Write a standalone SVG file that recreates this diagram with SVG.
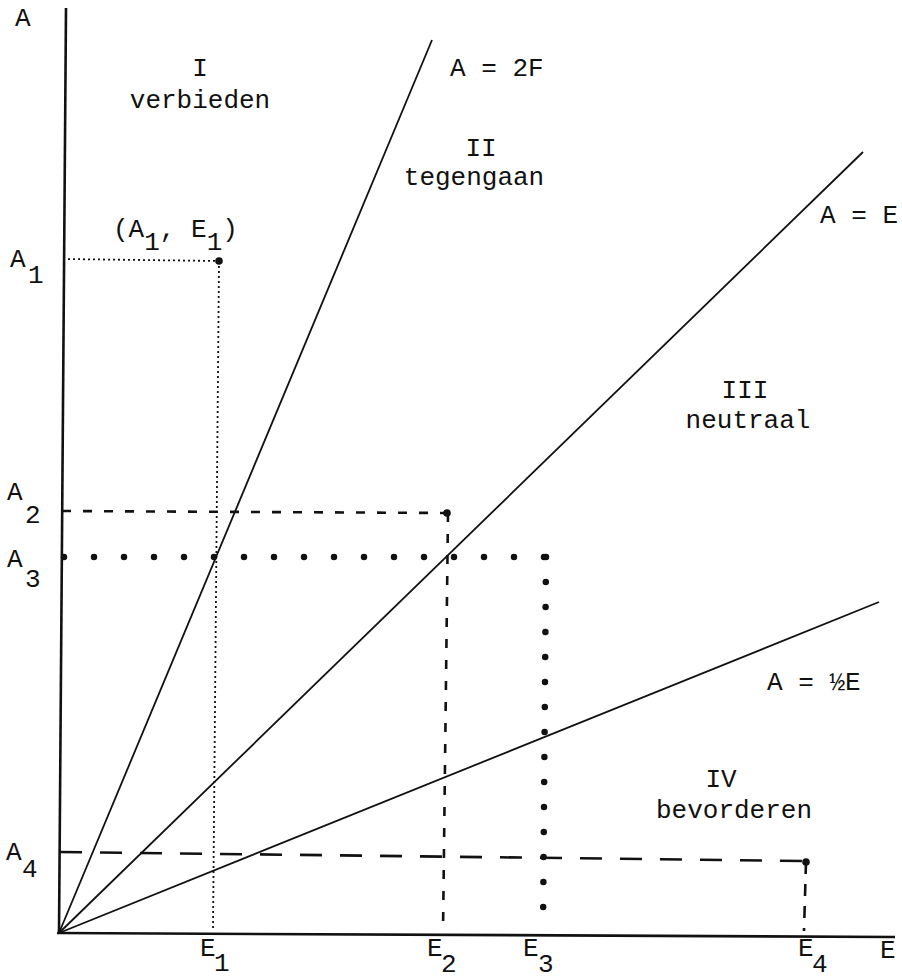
<svg xmlns="http://www.w3.org/2000/svg" width="902" height="979" viewBox="0 0 902 979">
<style>
text{font-family:"Liberation Mono","DejaVu Sans Mono",monospace;font-size:26px;fill:#111}
.mid{text-anchor:middle}
.axis{stroke:#111;stroke-width:2.6;fill:none}
.ray{stroke:#111;stroke-width:1.8;fill:none}
.fine{stroke:#111;stroke-width:1.8;stroke-dasharray:2 3;fill:none}
.dash{stroke:#111;stroke-width:2.6;stroke-dasharray:9 12;fill:none}
.heavy{stroke:#111;stroke-width:6.5;stroke-linecap:round;stroke-dasharray:0 30;fill:none}
.heavyv{stroke:#111;stroke-width:6.5;stroke-linecap:round;stroke-dasharray:0 25;fill:none}
.long{stroke:#111;stroke-width:2.6;stroke-dasharray:22 18;fill:none}
.pt{fill:#111}
</style>
<rect width="902" height="979" fill="#fff"/>
<g id="axes">
<line class="axis" x1="66" y1="8" x2="59" y2="934"/>
<line class="axis" x1="57" y1="933" x2="895" y2="937"/>
<text x="15" y="26">A</text>
<text x="880" y="958">E</text>
</g>
<g id="rays">
<line class="ray" x1="59" y1="933" x2="432" y2="40"/>
<line class="ray" x1="59" y1="933" x2="863" y2="152"/>
<line class="ray" x1="59" y1="933" x2="879" y2="602"/>
</g>
<g id="ray-labels">
<text x="450" y="76">A = 2F</text>
<text x="820" y="223">A = E</text>
<text x="767" y="690">A = ½E</text>
</g>
<g id="regions">
<text class="mid" x="200" y="76">I</text>
<text class="mid" x="200" y="108">verbieden</text>
<text class="mid" x="481" y="156">II</text>
<text class="mid" x="474" y="185">tegengaan</text>
<text class="mid" x="745" y="398">III</text>
<text class="mid" x="748" y="428">neutraal</text>
<text class="mid" x="721" y="787">IV</text>
<text class="mid" x="734" y="818">bevorderen</text>
</g>
<g id="point1">
<line class="fine" x1="63" y1="259" x2="219" y2="261"/>
<line class="fine" x1="219" y1="261" x2="213" y2="930"/>
<circle class="pt" cx="219" cy="261" r="3.8"/>
<text x="113" y="237">(A<tspan dy="13">1</tspan><tspan dy="-13">, E</tspan><tspan dy="13">1</tspan><tspan dy="-13">)</tspan></text>
</g>
<g id="point2">
<line class="dash" x1="62" y1="511" x2="447" y2="513"/>
<line class="dash" x1="448" y1="513" x2="443" y2="932"/>
<circle class="pt" cx="447" cy="513" r="3.8"/>
</g>
<g id="point3">
<line class="heavy" x1="64" y1="557" x2="546" y2="557"/>
<line class="heavyv" x1="546" y1="557" x2="543" y2="931"/>
</g>
<g id="point4">
<line class="long" x1="60" y1="852" x2="806" y2="861"/>
<line class="dash" x1="806" y1="862" x2="804" y2="931" style="stroke-dasharray:12 10"/>
<circle class="pt" cx="806" cy="862" r="3.8"/>
</g>
<g id="a-labels">
<text x="10" y="267">A</text><text x="28" y="283">1</text>
<text x="7" y="500">A</text><text x="25" y="523">2</text>
<text x="7" y="567">A</text><text x="25" y="587">3</text>
<text x="6" y="860">A</text><text x="22" y="877">4</text>
</g>
<g id="e-labels">
<text x="200" y="956">E</text><text x="214" y="971">1</text>
<text x="427" y="956">E</text><text x="441" y="972">2</text>
<text x="523" y="956">E</text><text x="538" y="972">3</text>
<text x="798" y="956">E</text><text x="812" y="972">4</text>
</g>
</svg>
